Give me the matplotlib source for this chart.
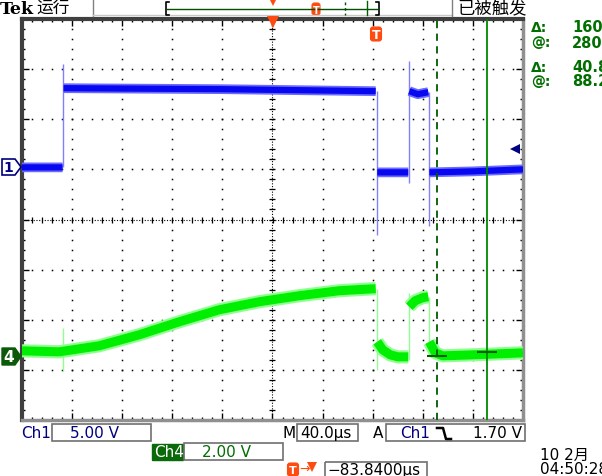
import numpy as np
import matplotlib.pyplot as plt
from matplotlib.patches import Rectangle, Polygon, FancyBboxPatch

plt.rcParams['font.family'] = ['DejaVu Sans', 'Noto Sans CJK SC']
CJK = ['Noto Sans CJK SC', 'DejaVu Sans']

nan = np.nan

# screen divisions (x: 40 us/div, 0 = centre; y: 0 = centre line)
# Ch1 (5 V/div) trace, flat parts; NaN breaks between pieces
ch1_t = [-5.0, -4.19, nan, -4.17, -1.0, 2.06, nan, 2.09, 2.71, nan,
         2.73, 2.9, 3.11, nan, 3.13, 4.0, 5.0]
ch1_v = [1.04, 1.04, nan, 2.62, 2.60, 2.56, nan, 0.94, 0.94, nan,
         2.56, 2.50, 2.54, nan, 0.94, 0.96, 1.00]
# Ch1 switching edges (thin)
ch1_edge_t = [-4.18, 2.08, 2.72, 3.12]
ch1_edge_lo = [1.04, -0.30, 0.72, -0.12]
ch1_edge_hi = [3.10, 2.56, 3.16, 2.54]

# Ch4 (2 V/div) trace
ch4_t = [-5.0, -4.26, -3.46, -2.66, -1.86, -1.06, -0.26, 0.54, 1.34, 2.06, nan,
         2.09, 2.2, 2.35, 2.5, 2.71, nan,
         2.73, 2.85, 3.0, 3.11, nan,
         3.13, 3.25, 3.4, 4.0, 5.0]
ch4_v = [-2.62, -2.64, -2.52, -2.30, -2.04, -1.80, -1.64, -1.52, -1.42, -1.38, nan,
         -2.44, -2.60, -2.70, -2.74, -2.74, nan,
         -1.74, -1.62, -1.56, -1.54, nan,
         -2.44, -2.66, -2.72, -2.70, -2.66]
ch4_edge_t = [-4.18, 2.08, 2.72, 3.12]
ch4_edge_lo = [-3.02, -3.00, -2.80, -2.54]
ch4_edge_hi = [-2.16, -1.38, -1.46, -1.54]

# cursors and their crosshair readings on Ch4
cursor_t = [3.28, 4.28]
cursor_v = [-2.72, -2.64]

# readouts (cut off by the screen edge in the original)
readout_labels = ['Δ:', '@:', 'Δ:', '@:']
readout_values = ['160', '280', '40.8', '88.2']

fig = plt.figure(figsize=(6.02, 4.77), dpi=100)
W, H = 602, 477
ax = fig.add_axes([22 / W, (H - 421) / H, 501 / W, 401 / H])
ax.set_xlim(-5, 5)
ax.set_ylim(-4, 4)

# graticule
ax.set_xticks(np.arange(-5, 5.01, 1))
ax.set_yticks(np.arange(-4, 4.01, 1))
ax.set_xticks(np.arange(-5, 5.01, 0.2), minor=True)
ax.set_yticks(np.arange(-4, 4.01, 0.2), minor=True)
ax.tick_params(which='both', direction='in', top=True, right=True,
               labelbottom=False, labelleft=False, color='k', width=1)
ax.tick_params(which='major', length=5)
ax.tick_params(which='minor', length=2.5)
for side in ['top', 'left']:
    ax.spines[side].set_color('#404040')
    ax.spines[side].set_linewidth(3)
for side in ['right', 'bottom']:
    ax.spines[side].set_color('#909090')
    ax.spines[side].set_linewidth(2.5)

ys = np.arange(-4, 4.01, 0.2)
xs = np.arange(-5, 5.01, 0.2)
for xv in [-4, -3, -2, -1, 1, 2, 3, 4]:
    ax.plot([xv] * len(ys), ys, ls='none', marker='s', ms=1.1, color='k', mew=0)
for yv in [-3, -2, -1, 1, 2, 3]:
    ax.plot(xs, [yv] * len(xs), ls='none', marker='s', ms=1.1, color='k', mew=0)
ax.axvline(0, color='k', lw=0.8, ls=(0, (1, 1.5)))
ax.axhline(0, color='k', lw=0.8, ls=(0, (1, 1.5)))
ax.plot([0] * len(ys), ys, ls='none', marker='_', ms=5, mew=0.9, color='k')
ax.plot(xs, [0] * len(xs), ls='none', marker='|', ms=5, mew=0.9, color='k')

# traces
ax.vlines(ch1_edge_t, ch1_edge_lo, ch1_edge_hi, color='#8080ff', lw=1, zorder=3)
ax.plot(ch1_t, ch1_v, color='#6a6aff', lw=7, solid_capstyle='butt', zorder=3)
ax.plot(ch1_t, ch1_v, color='#0808f0', lw=4.5, solid_capstyle='butt', zorder=3)
ax.vlines(ch4_edge_t, ch4_edge_lo, ch4_edge_hi, color='#90ff90', lw=1, zorder=3)
ax.plot(ch4_t, ch4_v, color='#90ff90', lw=9.5, solid_capstyle='butt', zorder=3)
ax.plot(ch4_t, ch4_v, color='#00ee00', lw=6.5, solid_capstyle='butt', zorder=3)

# cursors
ax.axvline(cursor_t[0], color='#005a00', lw=1.3, ls=(0, (4, 3)), zorder=4)
ax.axvline(cursor_t[1], color='#008a00', lw=1.3, zorder=4)
ax.plot(cursor_t, cursor_v, ls='none', marker='_', ms=15, mew=1.5,
        color='#005a00', zorder=5)

# overlay in screen pixels for the scope furniture
ov = fig.add_axes([0, 0, 1, 1])
ov.set_xlim(0, W)
ov.set_ylim(H, 0)
ov.axis('off')
ov.patch.set_visible(False)

ORANGE = '#ff4a10'
NAVY = '#000080'
GREEN = '#006e00'


def t_marker(cx, cy, w, h, fs):
    ov.add_patch(FancyBboxPatch((cx - w / 2, cy - h / 2), w, h,
                                boxstyle='round,pad=0,rounding_size=2.5',
                                fc=ORANGE, ec=ORANGE, lw=0.8))
    ov.text(cx, cy + 0.5, 'T', color='white', fontsize=fs, fontweight='bold',
            ha='center', va='center')


def box(x, y, w, h):
    ov.add_patch(Rectangle((x, y), w, h, fill=False, ec='#707070', lw=1.2))


# header
ov.text(0, 9, 'Tek', fontfamily='DejaVu Serif', fontweight='bold',
        fontsize=12.5, ha='left', va='center')
ov.text(36, 8.5, '运行', fontfamily=CJK, fontsize=12, ha='left', va='center')
ov.plot([93, 93], [0, 17], color='#808080', lw=1)
ov.plot([93, 452], [16, 16], color='#c8c8c8', lw=1)
ov.plot([452, 452], [0, 17], color='#808080', lw=1)
ov.text(457, 8.5, '已被触发', fontfamily=CJK, fontsize=12.5, ha='left', va='center')
ov.plot([169, 166, 166, 169], [3, 3, 16, 16], color='k', lw=1.2)
ov.plot([376, 379, 379, 376], [3, 3, 16, 16], color='k', lw=1.2)
ov.plot([167, 378], [9.5, 9.5], color='#005000', lw=1)
ov.plot([345, 345], [3, 16], color='#005000', lw=1, ls=(0, (2, 2)))
ov.plot([367, 367], [2, 16], color='#006000', lw=1)
ov.plot(273, 3, marker='v', ms=6, color=ORANGE, mew=0)
t_marker(316, 10, 8, 12, 7)

# trigger markers on graticule
ov.plot(273, 22.5, marker='v', ms=9, color=ORANGE, mew=0)
t_marker(376, 35, 11, 14, 9)

# channel ground markers
ov.add_patch(Polygon([(2, 160), (15, 160), (21, 168), (15, 176), (2, 176)],
                     closed=True, fc='white', ec=NAVY, lw=1.2))
ov.text(8.5, 168.5, '1', color=NAVY, fontsize=10, fontweight='bold',
        ha='center', va='center')
ov.add_patch(Polygon([(2, 349), (15, 349), (21, 357.5), (15, 366), (2, 366)],
                     closed=True, fc='#0a5a0a', ec='#0a5a0a', lw=1))
ov.text(8.5, 358, '4', color='white', fontsize=11, fontweight='bold',
        ha='center', va='center')
ov.plot(515, 150, marker='<', ms=7, color=NAVY, mew=0)

# cursor readouts
for y, lab, val in zip([28, 43, 68, 82], readout_labels, readout_values):
    ov.text(531, y, lab, color=GREEN, fontsize=10, fontweight='bold',
            ha='left', va='center')
    ov.text(572, y, val, color=GREEN, fontsize=10.5, fontweight='bold',
            ha='left', va='center')

# bottom status
ov.text(21, 434, 'Ch1', color=NAVY, fontsize=11, ha='left', va='center')
box(52, 425, 99, 17)
ov.text(70, 434, '5.00 V', color=NAVY, fontsize=11, ha='left', va='center')
ov.text(283, 434, 'M', color='k', fontsize=11, ha='left', va='center')
box(297, 425, 61, 17)
ov.text(300, 434, '40.0µs', color='k', fontsize=11, ha='left', va='center')
ov.text(373, 434, 'A', color='k', fontsize=11, ha='left', va='center')
box(386, 425, 139, 17)
ov.text(400, 434, 'Ch1', color=NAVY, fontsize=11, ha='left', va='center')
ov.plot([437, 443, 446, 451], [429, 429, 440, 440], color='k', lw=1.8)
ov.text(522, 434, '1.70 V', color='k', fontsize=11, ha='right', va='center')

ov.add_patch(Rectangle((152, 445), 31, 16, fc='#0a6a0a', ec='#0a6a0a'))
ov.text(154, 453, 'Ch4', color='white', fontsize=11, ha='left', va='center')
box(184, 444, 99, 17)
ov.text(202, 453, '2.00 V', color=GREEN, fontsize=11, ha='left', va='center')

t_marker(293, 470.5, 11, 13, 8)
ov.text(299, 469, '→', color=ORANGE, fontsize=9, ha='left', va='center')
ov.plot(312, 468, marker='v', ms=7, color=ORANGE, mew=0)
box(325, 463, 102, 16)
ov.text(327, 471, '−83.8400µs', color='k', fontsize=11, ha='left', va='center')
ov.text(540, 455, '10 2月', fontfamily=['DejaVu Sans', 'Noto Sans CJK SC'],
        color='k', fontsize=11, ha='left', va='center')
ov.text(540, 470, '04:50:28', color='k', fontsize=11, ha='left', va='center')

fig.savefig('out.png', dpi=100)
